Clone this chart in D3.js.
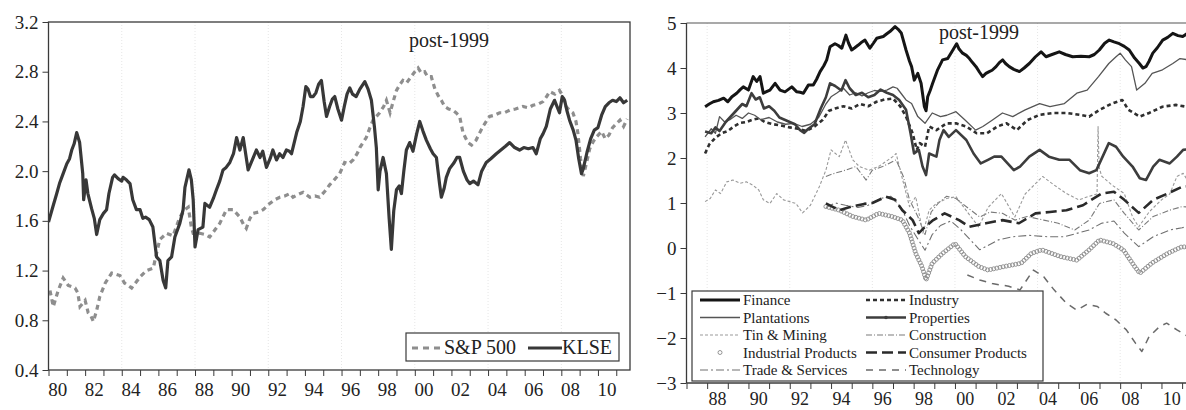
<!DOCTYPE html>
<html>
<head>
<meta charset="utf-8">
<script src="https://cdn.jsdelivr.net/npm/d3@7"></script>
<style>
  body { margin: 0; background: #fff; }
  svg { display: block; }
  svg text { font-family: "Liberation Serif", "Times New Roman", serif; }
</style>
</head>
<body>
<svg id="chart" width="1186" height="410" font-family="Liberation Serif, serif"></svg>
<script>
// ---- left panel: KLSE vs S&P 500 ----
const klse = [[1980.00,1.59],[1980.25,1.72],[1980.45,1.82],[1980.60,1.90],[1980.80,1.98],[1981.00,2.06],[1981.15,2.10],[1981.27,2.17],[1981.40,2.22],[1981.54,2.31],[1981.70,2.23],[1981.87,1.98],[1981.92,1.77],[1982.05,1.93],[1982.15,1.82],[1982.35,1.70],[1982.50,1.62],[1982.63,1.49],[1982.80,1.61],[1983.00,1.66],[1983.17,1.69],[1983.30,1.82],[1983.50,1.95],[1983.60,1.97],[1983.80,1.94],[1984.00,1.92],[1984.07,1.95],[1984.25,1.93],[1984.45,1.90],[1984.60,1.77],[1984.80,1.69],[1985.00,1.69],[1985.15,1.62],[1985.30,1.63],[1985.50,1.61],[1985.70,1.55],[1985.90,1.31],[1986.08,1.28],[1986.26,1.12],[1986.40,1.06],[1986.52,1.28],[1986.72,1.31],[1986.90,1.47],[1987.17,1.58],[1987.35,1.69],[1987.45,1.87],[1987.67,2.01],[1987.80,1.93],[1987.90,1.77],[1988.00,1.39],[1988.17,1.53],[1988.43,1.55],[1988.54,1.74],[1988.80,1.71],[1989.00,1.78],[1989.17,1.85],[1989.35,1.92],[1989.53,2.01],[1989.70,2.03],[1989.90,2.07],[1990.10,2.14],[1990.27,2.27],[1990.45,2.17],[1990.63,2.27],[1990.90,2.01],[1991.10,2.08],[1991.35,2.17],[1991.55,2.11],[1991.70,2.16],[1991.90,2.03],[1992.10,2.10],[1992.25,2.17],[1992.45,2.09],[1992.62,2.14],[1992.80,2.11],[1992.99,2.17],[1993.15,2.16],[1993.27,2.14],[1993.40,2.22],[1993.55,2.31],[1993.75,2.40],[1993.90,2.52],[1994.05,2.68],[1994.17,2.66],[1994.30,2.60],[1994.45,2.60],[1994.60,2.63],[1994.75,2.70],[1994.90,2.73],[1995.05,2.56],[1995.18,2.44],[1995.35,2.52],[1995.50,2.58],[1995.63,2.60],[1995.80,2.50],[1996.00,2.41],[1996.15,2.52],[1996.30,2.62],[1996.45,2.67],[1996.60,2.62],[1996.80,2.60],[1997.00,2.66],[1997.27,2.72],[1997.45,2.66],[1997.63,2.57],[1997.80,2.35],[1997.90,2.19],[1998.00,1.85],[1998.10,2.00],[1998.27,2.11],[1998.45,1.98],[1998.60,1.62],[1998.72,1.37],[1998.85,1.68],[1999.00,1.85],[1999.15,1.88],[1999.27,1.82],[1999.40,2.00],[1999.54,2.17],[1999.72,2.23],[1999.90,2.16],[2000.10,2.30],[2000.27,2.40],[2000.45,2.32],[2000.63,2.25],[2000.85,2.18],[2001.00,2.14],[2001.18,2.11],[2001.35,1.90],[2001.45,1.79],[2001.60,1.86],[2001.72,1.95],[2001.90,2.02],[2002.15,2.07],[2002.30,2.11],[2002.45,2.11],[2002.65,2.00],[2002.85,1.93],[2003.00,1.90],[2003.20,1.92],[2003.45,1.89],[2003.65,2.00],[2003.90,2.07],[2004.15,2.10],[2004.45,2.14],[2004.70,2.17],[2004.95,2.20],[2005.18,2.23],[2005.45,2.19],[2005.72,2.17],[2005.95,2.19],[2006.20,2.18],[2006.45,2.19],[2006.63,2.14],[2006.85,2.26],[2007.00,2.30],[2007.18,2.36],[2007.40,2.50],[2007.63,2.57],[2007.90,2.47],[2008.05,2.60],[2008.18,2.57],[2008.30,2.49],[2008.45,2.41],[2008.65,2.33],[2008.80,2.25],[2008.95,2.10],[2009.10,1.98],[2009.20,2.02],[2009.40,2.15],[2009.60,2.26],[2009.80,2.33],[2010.00,2.35],[2010.20,2.45],[2010.40,2.52],[2010.60,2.55],[2010.80,2.57],[2011.00,2.56],[2011.20,2.59],[2011.40,2.55],[2011.60,2.57]];

const sp500 = [[1980.08,1.04],[1980.26,0.91],[1980.53,1.04],[1980.80,1.14],[1981.08,1.08],[1981.45,1.06],[1981.60,1.02],[1981.72,0.91],[1982.00,0.96],[1982.17,0.86],[1982.30,0.84],[1982.45,0.79],[1982.63,0.88],[1982.80,0.99],[1983.10,1.10],[1983.45,1.18],[1983.70,1.17],[1983.90,1.16],[1984.15,1.10],[1984.35,1.08],[1984.54,1.06],[1984.80,1.11],[1985.00,1.15],[1985.35,1.20],[1985.72,1.22],[1985.90,1.34],[1986.08,1.45],[1986.45,1.50],[1986.80,1.48],[1987.17,1.63],[1987.45,1.69],[1987.63,1.71],[1987.80,1.55],[1987.90,1.50],[1988.26,1.50],[1988.55,1.49],[1988.80,1.47],[1989.10,1.53],[1989.35,1.58],[1989.72,1.69],[1990.08,1.69],[1990.45,1.63],[1990.65,1.57],[1990.80,1.54],[1991.00,1.62],[1991.17,1.66],[1991.45,1.67],[1991.72,1.69],[1992.08,1.74],[1992.35,1.77],[1992.63,1.79],[1992.90,1.80],[1993.18,1.82],[1993.35,1.79],[1993.60,1.81],[1993.90,1.83],[1994.27,1.79],[1994.55,1.80],[1994.80,1.79],[1995.10,1.84],[1995.35,1.89],[1995.60,1.93],[1995.90,1.98],[1996.17,2.07],[1996.40,2.06],[1996.63,2.09],[1996.85,2.14],[1997.00,2.19],[1997.35,2.27],[1997.55,2.35],[1997.72,2.41],[1997.90,2.44],[1998.08,2.47],[1998.30,2.52],[1998.45,2.57],[1998.65,2.47],[1998.80,2.55],[1999.00,2.65],[1999.20,2.70],[1999.35,2.73],[1999.55,2.71],[1999.80,2.76],[2000.00,2.80],[2000.18,2.83],[2000.35,2.79],[2000.54,2.80],[2000.70,2.76],[2000.90,2.76],[2001.10,2.66],[2001.27,2.61],[2001.45,2.57],[2001.63,2.52],[2001.85,2.50],[2002.08,2.49],[2002.25,2.47],[2002.45,2.44],[2002.63,2.31],[2002.90,2.23],[2003.10,2.21],[2003.35,2.25],[2003.55,2.31],[2003.72,2.36],[2003.90,2.40],[2004.08,2.44],[2004.35,2.45],[2004.63,2.47],[2004.90,2.47],[2005.18,2.49],[2005.50,2.50],[2005.90,2.52],[2006.20,2.51],[2006.45,2.53],[2006.75,2.54],[2007.00,2.56],[2007.20,2.60],[2007.36,2.64],[2007.65,2.62],[2007.90,2.65],[2008.10,2.60],[2008.26,2.52],[2008.45,2.49],[2008.63,2.47],[2008.80,2.40],[2008.90,2.31],[2009.05,2.10],[2009.20,1.96],[2009.35,2.05],[2009.55,2.18],[2009.75,2.24],[2009.95,2.28],[2010.20,2.32],[2010.40,2.26],[2010.60,2.29],[2010.80,2.35],[2011.00,2.38],[2011.20,2.41],[2011.40,2.36],[2011.60,2.42]];

const leftTicks = [0.4, 0.8, 1.2, 1.6, 2.0, 2.4, 2.8, 3.2];

// ---- right panel: sector indices ----
const finance = [[1987.90,3.14],[1988.10,3.20],[1988.30,3.25],[1988.55,3.28],[1988.80,3.33],[1989.00,3.25],[1989.20,3.36],[1989.43,3.44],[1989.60,3.52],[1989.75,3.58],[1990.00,3.51],[1990.23,3.81],[1990.40,3.70],[1990.56,3.81],[1990.72,3.44],[1990.90,3.48],[1991.04,3.51],[1991.29,3.66],[1991.53,3.51],[1991.77,3.47],[1992.10,3.58],[1992.34,3.47],[1992.50,3.46],[1992.66,3.44],[1992.90,3.62],[1993.14,3.62],[1993.30,3.75],[1993.47,3.92],[1993.65,4.05],[1993.79,4.18],[1993.95,4.47],[1994.19,4.54],[1994.35,4.50],[1994.52,4.44],[1994.72,4.73],[1994.85,4.55],[1995.00,4.40],[1995.15,4.45],[1995.32,4.51],[1995.50,4.58],[1995.64,4.62],[1995.88,4.44],[1996.05,4.55],[1996.21,4.66],[1996.53,4.70],[1996.70,4.76],[1996.85,4.81],[1997.10,4.92],[1997.25,4.86],[1997.40,4.78],[1997.63,4.40],[1997.80,4.15],[1997.90,4.03],[1998.03,3.73],[1998.20,3.88],[1998.36,3.66],[1998.52,3.14],[1998.60,3.05],[1998.68,3.36],[1998.80,3.50],[1998.92,3.66],[1999.16,3.96],[1999.40,4.18],[1999.65,4.21],[1999.90,4.40],[2000.08,4.54],[2000.20,4.42],[2000.37,4.33],[2000.55,4.28],[2000.70,4.21],[2000.85,4.12],[2001.02,4.03],[2001.20,3.90],[2001.34,3.81],[2001.50,3.88],[2001.66,3.92],[2001.80,3.95],[2001.99,4.03],[2002.15,4.12],[2002.31,4.18],[2002.45,4.10],[2002.63,4.03],[2002.85,3.97],[2003.12,3.92],[2003.35,4.00],[2003.60,4.10],[2003.90,4.25],[2004.17,4.36],[2004.41,4.25],[2004.70,4.30],[2005.05,4.36],[2005.35,4.30],[2005.70,4.25],[2006.10,4.26],[2006.50,4.25],[2006.75,4.30],[2006.99,4.40],[2007.25,4.55],[2007.47,4.62],[2007.70,4.58],[2007.96,4.54],[2008.20,4.48],[2008.44,4.40],[2008.70,4.22],[2008.93,4.10],[2009.10,4.00],[2009.25,4.03],[2009.40,4.15],[2009.58,4.33],[2009.80,4.45],[2010.06,4.62],[2010.30,4.68],[2010.55,4.77],[2010.80,4.72],[2011.03,4.70],[2011.30,4.78],[2011.50,4.75]];

const plantations = [[1987.90,2.47],[1988.20,2.65],[1988.40,2.55],[1988.60,2.92],[1988.85,2.80],[1989.10,2.85],[1989.40,2.95],[1989.70,2.88],[1990.00,3.00],[1990.30,2.95],[1990.60,2.85],[1991.00,2.90],[1991.40,2.80],[1991.80,2.75],[1992.20,2.77],[1992.60,2.70],[1993.00,2.75],[1993.40,2.90],[1993.75,3.20],[1994.00,3.36],[1994.30,3.45],[1994.60,3.55],[1994.90,3.40],[1995.20,3.45],[1995.50,3.38],[1995.80,3.45],[1996.10,3.50],[1996.40,3.48],[1996.70,3.51],[1997.00,3.58],[1997.20,3.55],[1997.45,3.40],[1997.63,3.29],[1997.90,3.21],[1998.20,2.92],[1998.55,2.77],[1998.90,3.00],[1999.30,2.92],[1999.60,2.95],[2000.05,3.03],[2000.50,2.84],[2001.00,2.62],[2001.35,2.70],[2001.80,2.84],[2002.30,3.00],[2002.80,2.92],[2003.40,3.07],[2004.10,3.21],[2004.60,3.14],[2005.30,3.21],[2005.90,3.44],[2006.40,3.51],[2006.95,3.81],[2007.45,4.10],[2007.80,4.25],[2008.00,4.33],[2008.25,4.18],[2008.55,4.03],[2008.80,3.51],[2009.20,3.66],[2009.55,3.88],[2010.05,3.96],[2010.55,4.10],[2010.90,4.21],[2011.30,4.18],[2011.55,4.20]];

const properties = [[1987.90,2.59],[1988.20,2.55],[1988.40,2.68],[1988.60,2.60],[1988.90,2.80],[1989.20,2.95],[1989.40,3.05],[1989.70,3.20],[1989.90,3.15],[1990.15,3.44],[1990.35,3.30],[1990.55,3.35],[1990.75,3.10],[1991.00,3.15],[1991.25,3.05],[1991.50,2.90],[1991.75,2.85],[1992.00,2.80],[1992.25,2.75],[1992.50,2.62],[1992.70,2.56],[1992.90,2.65],[1993.20,2.75],[1993.50,3.10],[1993.75,3.35],[1993.95,3.66],[1994.20,3.60],[1994.50,3.50],[1994.70,3.73],[1994.90,3.55],[1995.20,3.40],[1995.50,3.45],[1995.80,3.35],[1996.10,3.40],[1996.40,3.52],[1996.70,3.45],[1997.00,3.40],[1997.30,3.29],[1997.63,3.07],[1997.85,2.55],[1998.02,2.10],[1998.25,2.18],[1998.43,1.81],[1998.60,1.62],[1998.75,2.10],[1999.10,2.03],[1999.25,2.40],[1999.45,2.62],[1999.70,2.47],[2000.05,2.62],[2000.55,2.40],[2000.90,2.10],[2001.25,1.88],[2001.60,1.96],[2001.90,2.03],[2002.25,2.03],[2002.55,1.88],[2002.85,1.73],[2003.15,1.81],[2003.60,2.03],[2004.10,2.18],[2004.55,2.03],[2005.05,1.96],[2005.55,1.96],[2006.05,1.73],[2006.50,1.66],[2006.85,1.73],[2007.15,2.03],[2007.45,2.33],[2007.80,2.25],[2008.15,2.03],[2008.60,1.81],[2008.95,1.55],[2009.25,1.51],[2009.60,1.81],[2009.90,1.96],[2010.40,1.88],[2010.75,2.03],[2011.05,2.18],[2011.55,2.21]];

const industry = [[1987.90,2.10],[1988.10,2.30],[1988.40,2.45],[1988.70,2.55],[1989.00,2.60],[1989.30,2.70],[1989.60,2.78],[1989.90,2.80],[1990.20,2.85],[1990.50,2.88],[1990.80,2.80],[1991.20,2.75],[1991.60,2.72],[1992.00,2.68],[1992.40,2.65],[1992.80,2.60],[1993.20,2.70],[1993.60,2.85],[1993.90,3.05],[1994.20,3.10],[1994.60,3.15],[1995.00,3.10],[1995.40,3.20],[1995.80,3.15],[1996.20,3.25],[1996.60,3.30],[1997.00,3.32],[1997.35,3.15],[1997.63,2.92],[1997.95,2.55],[1998.15,2.18],[1998.30,2.33],[1998.55,2.25],[1998.75,2.70],[1999.10,2.62],[1999.60,2.77],[2000.05,2.77],[2000.55,2.70],[2001.05,2.55],[2001.55,2.55],[2002.05,2.70],[2002.50,2.77],[2003.00,2.62],[2003.50,2.84],[2004.10,2.96],[2004.75,3.00],[2005.40,3.00],[2006.05,2.96],[2006.50,2.92],[2007.00,3.07],[2007.60,3.21],[2008.10,3.29],[2008.40,3.07],[2008.95,2.92],[2009.40,3.00],[2010.05,3.14],[2010.70,3.18],[2011.20,3.14],[2011.55,3.15]];

const tinMining = [[1987.90,1.03],[1988.15,1.10],[1988.40,1.29],[1988.65,1.21],[1988.95,1.47],[1989.25,1.51],[1989.60,1.44],[1989.90,1.47],[1990.20,1.40],[1990.50,1.29],[1990.72,1.07],[1991.04,0.99],[1991.37,1.21],[1991.70,1.07],[1992.00,1.03],[1992.30,0.99],[1992.62,0.78],[1993.00,0.95],[1993.43,1.36],[1993.75,1.73],[1994.00,2.18],[1994.40,2.03],[1994.70,2.40],[1995.05,1.96],[1995.37,1.81],[1995.85,1.73],[1996.30,1.81],[1996.99,2.03],[1997.15,2.10],[1997.47,1.51],[1997.80,0.92],[1998.10,1.14],[1998.45,0.33],[1998.75,0.84],[1999.10,0.99],[1999.60,1.10],[2000.05,1.14],[2000.60,0.80],[2001.15,0.47],[2001.60,0.90],[2002.25,1.21],[2002.90,0.69],[2003.40,1.20],[2004.25,1.59],[2004.80,1.40],[2005.40,1.21],[2006.00,1.07],[2006.50,1.15],[2006.88,1.20],[2006.93,2.70],[2006.98,1.80],[2007.10,1.60],[2007.60,1.40],[2008.20,1.21],[2008.60,0.69],[2008.90,0.47],[2009.40,0.80],[2010.00,1.07],[2010.40,1.20],[2010.75,1.59],[2011.05,1.66],[2011.55,1.30]];

const construction = [[1993.75,1.59],[1994.10,1.65],[1994.70,1.73],[1995.20,1.81],[1995.70,1.51],[1996.00,1.73],[1996.50,1.81],[1997.15,1.96],[1997.50,1.59],[1997.80,1.07],[1998.20,0.70],[1998.55,0.30],[1998.85,0.80],[1999.20,1.00],[1999.60,1.15],[2000.05,1.10],[2000.60,0.90],[2001.20,0.69],[2001.70,0.80],[2002.30,0.77],[2002.90,0.62],[2003.50,0.70],[2004.30,0.62],[2005.00,0.55],[2005.80,0.40],[2006.50,0.62],[2007.00,0.99],[2007.70,1.07],[2008.20,0.77],[2008.90,0.40],[2009.60,0.70],[2010.40,0.84],[2011.00,0.92],[2011.55,0.90]];

const tradeServices = [[1993.75,0.90],[1994.20,1.00],[1994.70,0.95],[1995.30,0.90],[1995.80,0.95],[1996.40,1.10],[1996.90,1.15],[1997.40,0.90],[1997.80,0.50],[1998.20,0.20],[1998.55,-0.05],[1998.90,0.30],[1999.30,0.50],[1999.80,0.60],[2000.30,0.40],[2001.20,-0.04],[2002.10,0.18],[2002.80,0.25],[2003.60,0.28],[2004.50,0.25],[2005.30,0.25],[2006.50,0.40],[2007.10,0.55],[2007.70,0.60],[2008.20,0.33],[2008.90,0.03],[2009.60,0.25],[2010.40,0.40],[2011.00,0.45],[2011.55,0.51]];

const consumerProducts = [[1993.75,0.99],[1994.40,0.84],[1995.00,0.92],[1995.60,0.98],[1996.00,1.00],[1996.66,1.14],[1997.10,1.07],[1997.45,0.84],[1997.95,0.62],[1998.25,0.33],[1998.55,0.47],[1998.95,0.62],[1999.50,0.77],[2000.20,0.62],[2000.70,0.47],[2001.50,0.55],[2002.30,0.62],[2003.10,0.55],[2003.90,0.77],[2004.60,0.80],[2005.40,0.84],[2006.20,0.95],[2006.60,1.07],[2007.10,1.21],[2007.70,1.25],[2008.20,1.07],[2008.90,0.78],[2009.60,1.07],[2010.30,1.21],[2011.00,1.36],[2011.55,1.38]];

const industrialProducts = [[1993.75,0.92],[1994.40,0.84],[1995.05,0.70],[1995.70,0.62],[1996.30,0.77],[1996.95,0.70],[1997.45,0.62],[1997.80,0.33],[1998.10,-0.12],[1998.40,-0.41],[1998.60,-0.71],[1998.90,-0.34],[1999.40,-0.12],[2000.00,0.10],[2000.50,-0.19],[2001.15,-0.41],[2001.60,-0.49],[2002.40,-0.41],[2003.20,-0.34],[2003.70,-0.12],[2004.20,-0.04],[2005.10,-0.19],[2005.90,-0.27],[2006.50,-0.04],[2007.00,0.18],[2007.65,0.10],[2008.15,-0.04],[2008.70,-0.41],[2008.95,-0.56],[2009.55,-0.33],[2010.30,-0.12],[2011.00,0.03],[2011.55,0.00]];

const technology = [[2000.60,-0.60],[2001.20,-0.71],[2001.80,-0.79],[2002.60,-0.85],[2003.15,-0.93],[2003.80,-0.49],[2004.30,-0.64],[2004.80,-0.93],[2005.40,-1.23],[2005.90,-1.38],[2006.40,-1.25],[2006.90,-1.30],[2007.30,-1.45],[2007.80,-1.60],[2008.30,-1.82],[2008.75,-2.12],[2009.05,-2.30],[2009.40,-1.97],[2009.90,-1.75],[2010.25,-1.67],[2010.75,-1.82],[2011.30,-1.97],[2011.55,-2.00]];

const rightTicks = [-3, -2, -1, 0, 1, 2, 3, 4, 5];

// series styles for the right panel (drawing order = back to front)
const sectors = [
  {name: "Technology", data: technology, color: "#6a6a6a", width: 1.5, dash: "7,6"},
  {name: "Trade & Services", data: tradeServices, color: "#707070", width: 1.1, dash: "8,3,2,3"},
  {name: "Construction", data: construction, color: "#7a7a7a", width: 1.1, dash: "6,2,1,2"},
  {name: "Tin & Mining", data: tinMining, color: "#9a9a9a", width: 1.1, dash: "3,2"},
  {name: "Industrial Products", data: industrialProducts, color: "#8a8a8a", width: 0, dash: null, circles: true},
  {name: "Consumer Products", data: consumerProducts, color: "#2a2a2a", width: 2.6, dash: "11,5"},
  {name: "Industry", data: industry, color: "#2f2f2f", width: 2.6, dash: "4,3"},
  {name: "Plantations", data: plantations, color: "#555", width: 1.3, dash: null},
  {name: "Properties", data: properties, color: "#3d3d3d", width: 2.6, dash: null},
  {name: "Finance", data: finance, color: "#151515", width: 3, dash: null}
];
const legendOrder = [
  ["Finance", "Industry"],
  ["Plantations", "Properties"],
  ["Tin & Mining", "Construction"],
  ["Industrial Products", "Consumer Products"],
  ["Trade & Services", "Technology"]
];

const serif = "Liberation Serif, Times New Roman, serif";
const svg = d3.select("#chart");
const axisColor = "#3a3a3a";

// ---------- LEFT PANEL ----------
const xL = d3.scaleLinear().domain([1980, 2011.75]).range([48.5, 630]);
const yL = d3.scaleLinear().domain([0.4, 3.2]).range([370, 22]);

svg.append("defs").append("clipPath").attr("id", "clipL")
  .append("rect").attr("x", 48.5).attr("y", 22).attr("width", 630 - 48.5).attr("height", 348);

let gL = svg.append("g");

gL.selectAll(".gridL")
  .data(d3.range(1984, 2011, 4))
  .enter().append("line")
  .attr("x1", d => xL(d)).attr("x2", d => xL(d))
  .attr("y1", 22).attr("y2", 370)
  .attr("stroke", "#e6e6e6").attr("stroke-width", 1).attr("stroke-dasharray", "1,2");

let lineL = d3.line().x(d => xL(d[0])).y(d => yL(d[1]));

gL.append("path").datum(sp500)
  .attr("clip-path", "url(#clipL)")
  .attr("d", lineL).attr("fill", "none")
  .attr("stroke", "#8e8e8e").attr("stroke-width", 3.2)
  .attr("stroke-dasharray", "5,4");

gL.append("path").datum(klse)
  .attr("clip-path", "url(#clipL)")
  .attr("d", lineL).attr("fill", "none")
  .attr("stroke", "#383838").attr("stroke-width", 3.2)
  .attr("stroke-linejoin", "round");

gL.append("rect")
  .attr("x", 48.5).attr("y", 22).attr("width", 630 - 48.5).attr("height", 348)
  .attr("fill", "none").attr("stroke", axisColor).attr("stroke-width", 1.3);

let yAxisL = d3.axisLeft(yL).tickValues(leftTicks).tickSize(6).tickPadding(4)
  .tickFormat(d3.format(".1f"));
gL.append("g").attr("transform", "translate(48.5,0)").call(yAxisL)
  .attr("font-family", serif)
  .call(g => g.select(".domain").remove())
  .call(g => g.selectAll("line").attr("stroke", axisColor))
  .call(g => g.selectAll("text").attr("font-size", 19).attr("font-family", serif).attr("fill", "#222"));

let xAxisL = d3.axisBottom(xL).tickValues(d3.range(1980, 2012)).tickSize(6).tickFormat("");
gL.append("g").attr("transform", "translate(0,370)").call(xAxisL)
  .call(g => g.select(".domain").remove())
  .call(g => g.selectAll("line").attr("stroke", axisColor));

gL.selectAll(".xlabL")
  .data(d3.range(1980, 2011, 2))
  .enter().append("text")
  .attr("x", d => xL(d + 0.5)).attr("y", 396)
  .attr("text-anchor", "middle").attr("font-size", 19).attr("font-family", serif).attr("fill", "#222")
  .text(d => String(d % 100).padStart(2, "0"));

gL.append("text").attr("x", 449).attr("y", 47)
  .attr("text-anchor", "middle").attr("font-size", 20).attr("font-family", serif).attr("fill", "#222")
  .text("post-1999");

// left legend
let legL = gL.append("g").attr("font-family", serif);
legL.append("rect").attr("x", 406).attr("y", 333).attr("width", 213).attr("height", 28)
  .attr("fill", "#fff").attr("stroke", axisColor).attr("stroke-width", 1.2);
legL.append("line").attr("x1", 412).attr("x2", 441).attr("y1", 348).attr("y2", 348)
  .attr("stroke", "#8e8e8e").attr("stroke-width", 3).attr("stroke-dasharray", "6,5");
legL.append("text").attr("x", 444).attr("y", 354).attr("font-size", 20).attr("font-family", serif).attr("fill", "#222").text("S&P 500");
legL.append("line").attr("x1", 528).attr("x2", 562).attr("y1", 348).attr("y2", 348)
  .attr("stroke", "#383838").attr("stroke-width", 3);
legL.append("text").attr("x", 562).attr("y", 354).attr("font-size", 20).attr("font-family", serif).attr("fill", "#222").text("KLSE");

// ---------- RIGHT PANEL ----------
const xR = d3.scaleLinear().domain([1987, 2011.75]).range([686.5, 1197.6]);
const yR = d3.scaleLinear().domain([-3, 5]).range([383, 23]);

svg.select("defs").append("clipPath").attr("id", "clipR")
  .append("rect").attr("x", 686.5).attr("y", 23).attr("width", 520).attr("height", 360);

let gR = svg.append("g");

gR.selectAll(".gridR")
  .data(d3.range(1988, 2011, 4))
  .enter().append("line")
  .attr("x1", d => xR(d)).attr("x2", d => xR(d))
  .attr("y1", 23).attr("y2", 383)
  .attr("stroke", "#e6e6e6").attr("stroke-width", 1).attr("stroke-dasharray", "1,2");

let lineR = d3.line().x(d => xR(d[0])).y(d => yR(d[1]));
let plot = gR.append("g").attr("clip-path", "url(#clipR)");

sectors.forEach(s => {
  let p = plot.append("path").datum(s.data)
    .attr("d", lineR).attr("fill", "none")
    .attr("stroke", s.circles ? "none" : s.color)
    .attr("stroke-width", s.width)
    .attr("stroke-linejoin", "round");
  if (s.dash) p.attr("stroke-dasharray", s.dash);
  if (s.circles) {
    // small ring markers placed densely along the series path
    let node = p.node(), len = node.getTotalLength();
    let pts = d3.range(0, len, 3.2).map(l => node.getPointAtLength(l));
    plot.append("g").selectAll("circle").data(pts).enter().append("circle")
      .attr("cx", d => d.x).attr("cy", d => d.y).attr("r", 2)
      .attr("fill", "none").attr("stroke", s.color).attr("stroke-width", 0.9);
  }
});

// frame (right edge runs off the picture)
gR.append("line").attr("x1", 686.5).attr("x2", 1186).attr("y1", 23).attr("y2", 23)
  .attr("stroke", "#555").attr("stroke-width", 1.2);
gR.append("line").attr("x1", 686.5).attr("x2", 1186).attr("y1", 383).attr("y2", 383)
  .attr("stroke", axisColor).attr("stroke-width", 1.3);
gR.append("line").attr("x1", 686.5).attr("x2", 686.5).attr("y1", 23).attr("y2", 383)
  .attr("stroke", axisColor).attr("stroke-width", 1.3);

let yAxisR = d3.axisLeft(yR).tickValues(rightTicks).tickSize(6).tickPadding(4).tickFormat(d3.format("d"));
gR.append("g").attr("transform", "translate(686.5,0)").call(yAxisR)
  .attr("font-family", serif)
  .call(g => g.select(".domain").remove())
  .call(g => g.selectAll("line").attr("stroke", axisColor))
  .call(g => g.selectAll("text").attr("font-size", 19).attr("font-family", serif).attr("fill", "#222"));

let xAxisR = d3.axisBottom(xR).tickValues(d3.range(1987, 2012)).tickSize(6).tickFormat("");
gR.append("g").attr("transform", "translate(0,383)").call(xAxisR)
  .call(g => g.select(".domain").remove())
  .call(g => g.selectAll("line").attr("stroke", axisColor));

gR.selectAll(".xlabR")
  .data(d3.range(1988, 2011, 2))
  .enter().append("text")
  .attr("x", d => xR(d + 0.5)).attr("y", 405)
  .attr("text-anchor", "middle").attr("font-size", 18).attr("font-family", serif).attr("fill", "#222")
  .text(d => String(d % 100).padStart(2, "0"));

gR.append("text").attr("x", 979).attr("y", 39)
  .attr("text-anchor", "middle").attr("font-size", 20).attr("font-family", serif).attr("fill", "#222")
  .text("post-1999");

// right legend
let legR = gR.append("g").attr("font-family", serif);
legR.append("rect").attr("x", 692).attr("y", 291).attr("width", 351).attr("height", 90)
  .attr("fill", "#fff").attr("stroke", axisColor).attr("stroke-width", 1.2);
let styleOf = {};
sectors.forEach(s => styleOf[s.name] = s);
const colX = [[700, 740, 743], [866, 906, 909]];
legendOrder.forEach((row, i) => {
  let yy = 300 + i * 17.5;
  row.forEach((name, j) => {
    let s = styleOf[name];
    let [x1, x2, tx] = colX[j];
    if (s.circles) {
      legR.append("circle").attr("cx", (x1 + x2) / 2).attr("cy", yy).attr("r", 2)
        .attr("fill", "none").attr("stroke", s.color).attr("stroke-width", 0.9);
    } else {
      let l = legR.append("line").attr("x1", x1).attr("x2", x2).attr("y1", yy).attr("y2", yy)
        .attr("stroke", s.color).attr("stroke-width", s.width);
      if (s.dash) l.attr("stroke-dasharray", s.dash);
      if (name === "Properties") {
        legR.append("circle").attr("cx", (x1 + x2) / 2).attr("cy", yy).attr("r", 1.8).attr("fill", s.color);
      }
    }
    legR.append("text").attr("x", tx).attr("y", yy + 5).attr("font-size", 15).attr("font-family", serif).attr("fill", "#222").text(name);
  });
});
</script>
</body>
</html>
